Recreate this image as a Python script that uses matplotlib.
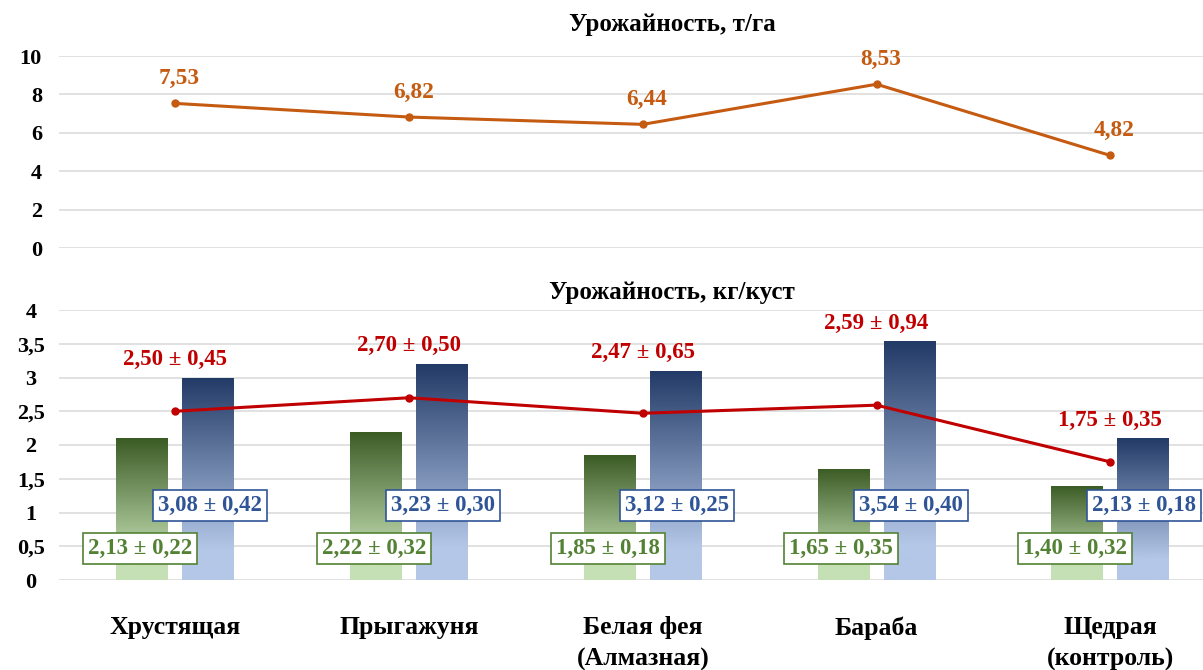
import numpy as np
import matplotlib
matplotlib.use('Agg')
import matplotlib.pyplot as plt
from matplotlib.colors import LinearSegmentedColormap

plt.rcParams['font.family'] = ['Liberation Serif', 'DejaVu Serif']
plt.rcParams['font.weight'] = 'bold'

# ── ДАННЫЕ ───────────────────────────────────────────────────────────────────
sorts = ['Хрустящая', 'Прыгажуня', 'Белая фея\n(Алмазная)', 'Бараба',
         'Щедрая\n(контроль)']

# урожайность, т/га
yield_ha = [7.53, 6.82, 6.44, 8.53, 4.82]

# урожайность, кг/куст (среднее ± отклонение)
yield_bush = [2.50, 2.70, 2.47, 2.59, 1.75]
yield_bush_err = [0.45, 0.50, 0.65, 0.94, 0.35]

# столбцы (высота как на рисунке) и подписи к ним
green_h = [2.10, 2.20, 1.85, 1.65, 1.40]
green_val = [2.13, 2.22, 1.85, 1.65, 1.40]
green_err = [0.22, 0.32, 0.18, 0.35, 0.32]
blue_h = [3.00, 3.20, 3.10, 3.54, 2.10]
blue_val = [3.08, 3.23, 3.12, 3.54, 2.13]
blue_err = [0.42, 0.30, 0.25, 0.40, 0.18]

top_ticks = [0, 2, 4, 6, 8, 10]
bot_ticks = [0, 0.5, 1, 1.5, 2, 2.5, 3, 3.5, 4]
bot_tick_labels = ['0', '0,5', '1', '1,5', '2', '2,5', '3', '3,5', '4']

# ── ЦВЕТА ────────────────────────────────────────────────────────────────────
ORANGE = '#C55A11'
RED = '#C00000'
GREEN_TXT = '#548235'
BLUE_TXT = '#2F5597'
GRID = '#D9D9D9'

cmap_g = LinearSegmentedColormap.from_list(
    'g', [(0, '#C5E0B4'), (0.15, '#C5E0B4'), (1, '#3B5B25')])
cmap_b = LinearSegmentedColormap.from_list(
    'b', [(0, '#B4C7E7'), (0.15, '#B4C7E7'), (1, '#223A66')])


def fmt(v, e):
    return f"{v:.2f} ± {e:.2f}".replace('.', ',')


W, H = 1203, 670
fig = plt.figure(figsize=(W / 100, H / 100), dpi=100)

left = 58.6 / W
width = 1168.5 / W
ax1 = fig.add_axes([left, (H - 248) / H, width, 192 / H])
ax2 = fig.add_axes([left, (H - 580) / H, width, 270 / H])

x = np.arange(len(sorts))

for ax in (ax1, ax2):
    for s in ax.spines.values():
        s.set_visible(False)
    ax.grid(axis='y', color=GRID, lw=1.1, zorder=0)
    ax.set_axisbelow(True)
    ax.tick_params(length=0)

# ── ВЕРХНИЙ ГРАФИК ───────────────────────────────────────────────────────────
ax1.plot(x, yield_ha, color=ORANGE, lw=2.2, marker='o', ms=5, zorder=3)
for xi, v in zip(x, yield_ha):
    ax1.annotate(f"{v:.2f}".replace('.', ','), (xi, v), xytext=(3, 18),
                 textcoords='offset points', ha='center', va='center',
                 color=ORANGE, fontsize=16.8, fontweight='bold')
ax1.set_xlim(-0.5, len(sorts) - 0.5)
ax1.set_ylim(0, 10)
ax1.set_yticks(top_ticks)
ax1.set_yticklabels([str(t) for t in top_ticks], fontsize=16)
ax1.tick_params(axis='y', pad=12)
ax1.set_xticks([])

# ── НИЖНИЙ ГРАФИК ────────────────────────────────────────────────────────────
bw = 0.2225
off = 0.141
bars_g = ax2.bar(x - off, green_h, width=bw, color='none', zorder=2)
bars_b = ax2.bar(x + off, blue_h, width=bw, color='none', zorder=2)

grad = np.linspace(0, 1, 256).reshape(-1, 1)
for bars, cm in ((bars_g, cmap_g), (bars_b, cmap_b)):
    for b in bars:
        x0, y0 = b.get_x(), b.get_y()
        im = ax2.imshow(grad, extent=[x0, x0 + b.get_width(), y0, y0 + b.get_height()],
                        origin='lower', aspect='auto', cmap=cm, zorder=2)
        im.set_clip_path(b)

ax2.plot(x, yield_bush, color=RED, lw=2.2, marker='o', ms=5, zorder=4)
for xi, v, e, top in zip(x, yield_bush, yield_bush_err, blue_h):
    ax2.annotate(fmt(v, e), (xi, top), xytext=(0, 13),
                 textcoords='offset points', ha='center', va='center',
                 color=RED, fontsize=16.5, fontweight='bold', zorder=5)

for xi, v, e in zip(x, green_val, green_err):
    ax2.text(xi - off - 0.01, 0.46, fmt(v, e), ha='center', va='center',
             color=GREEN_TXT, fontsize=16.5, fontweight='bold', zorder=6,
             bbox=dict(boxstyle='square,pad=0.22', fc='white', ec=GREEN_TXT, lw=1.2))
for xi, v, e in zip(x, blue_val, blue_err):
    ax2.text(xi + off + 0.005, 1.1, fmt(v, e), ha='center', va='center',
             color=BLUE_TXT, fontsize=16.5, fontweight='bold', zorder=6,
             bbox=dict(boxstyle='square,pad=0.22', fc='white', ec=BLUE_TXT, lw=1.2))

ax2.set_xlim(-0.5, len(sorts) - 0.5)
ax2.set_ylim(0, 4)
ax2.set_yticks(bot_ticks)
ax2.set_yticklabels(bot_tick_labels, fontsize=16)
for lab in ax2.get_yticklabels():
    lab.set_ha('center')
ax2.tick_params(axis='y', pad=20)
ax2.set_xticks(x)
ax2.set_xticklabels(sorts, fontsize=18.5, linespacing=1.45)
ax2.tick_params(axis='x', pad=26)

# ── ЗАГОЛОВКИ ────────────────────────────────────────────────────────────────
fig.text(672 / W, 1 - 25 / H, 'Урожайность, т/га', ha='center', va='center',
         fontsize=18, fontweight='bold')
fig.text(672 / W, 1 - 292 / H, 'Урожайность, кг/куст', ha='center', va='center',
         fontsize=18, fontweight='bold')

fig.savefig('out.png', dpi=100)
